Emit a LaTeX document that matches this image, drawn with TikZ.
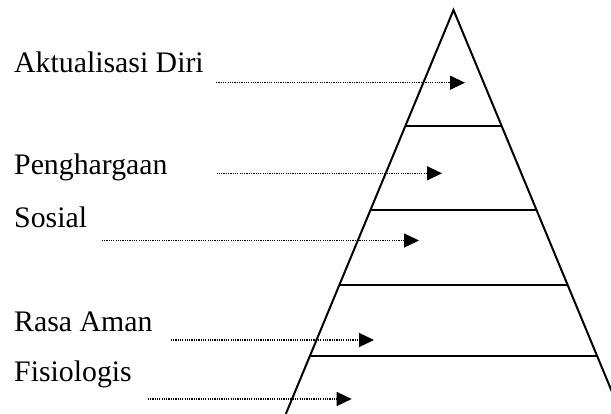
\documentclass[tikz,border=0pt]{standalone}
\usepackage{fontspec}
\setmainfont{Liberation Serif}
\usetikzlibrary{arrows.meta,calc}

\begin{document}
\begin{tikzpicture}[x=1pt,y=-1pt,
  level/.style={anchor=base west, inner sep=0pt, font=\fontsize{29.8}{36}\selectfont},
  pointer/.style={line width=1.3pt, dash pattern=on 1.2pt off 1.1pt,
    -{Triangle[length=15pt,width=14pt]}},
  edge/.style={line width=2pt}]
  \useasboundingbox (0,0) rectangle (611,414);

  % pyramid outline, running past the lower edge of the page
  \coordinate (apex) at (453.5,10);
  \coordinate (bl) at (285.8,414);
  \coordinate (br) at (621.2,414);
  \begin{scope}
    \clip (0,0) rectangle (611,414);
    \draw[edge, line join=miter] (bl) -- (apex) -- (br);
  \end{scope}

  % level separators
  \foreach \yy in {126,210.3,285,355.7}{
    \pgfmathsetmacro{\dd}{0.415*(\yy-10)}
    \draw[edge] (453.5-\dd,\yy) -- (453.5+\dd,\yy);
  }

  % labels
  \node[level] (aktual) at (14,72.3) {Aktualisasi Diri};
  \node[level] (harga)  at (14,175)  {Penghargaan};
  \node[level] (sosial) at (14,227.3) {Sosial};
  \node[level] (aman)   at (14,331.7) {Rasa Aman};
  \node[level] (fisio)  at (14,381.7) {Fisiologis};

  % pointers into the pyramid
  \coordinate (s1) at (216,82.7);  \coordinate (t1) at (465,82.7);
  \coordinate (s2) at (216.5,173.3); \coordinate (t2) at (442,173.3);
  \coordinate (s3) at (101.7,240.5); \coordinate (t3) at (419,240.5);
  \coordinate (s4) at (170.7,340); \coordinate (t4) at (374,340);
  \coordinate (s5) at (147.7,399); \coordinate (t5) at (351.7,399);
  \foreach \i in {1,...,5}{
    \draw[pointer] (s\i) -- (t\i);
  }
\end{tikzpicture}
\end{document}
